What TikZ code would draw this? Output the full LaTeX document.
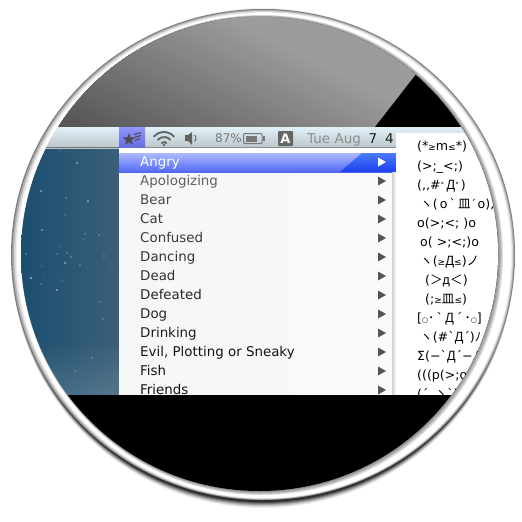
\documentclass[tikz,border=0pt]{standalone}
\usepackage{fontspec}
\setmainfont{DejaVu Sans}
\newfontfamily\plainf{DejaVu Sans}
\newfontfamily\cjk{Noto Sans CJK JP}
\newcommand{\cj}[1]{{\cjk #1}}
\usetikzlibrary{shapes.geometric,fadings}
\definecolor{menutext}{HTML}{2A2A2A}
\definecolor{bartext}{HTML}{777777}
\definecolor{arrowgrey}{HTML}{555555}
\definecolor{deskL}{HTML}{164A6E}
\definecolor{deskR}{HTML}{3A6078}
\definecolor{barT}{HTML}{E2F1F9}
\definecolor{barB}{HTML}{BAC6CA}
\definecolor{iconT}{HTML}{9296FF}
\definecolor{iconB}{HTML}{626ADC}
\definecolor{menuL}{HTML}{F5F6F8}
\definecolor{menuR}{HTML}{FAFAFA}
\definecolor{rowT}{HTML}{ACBAFF}
\definecolor{rowB}{HTML}{5268F6}
\definecolor{glareT}{HTML}{4C7CF8}
\definecolor{glareB}{HTML}{1C3EF0}
\tikzset{
  menuitem/.style={anchor=base west,inner sep=0pt,text=menutext,font=\fontsize{13.4}{15}\selectfont},
  subitem/.style={anchor=base west,inner sep=0pt,text=black,font=\plainf\fontsize{12.6}{14}\selectfont},
  bartxt/.style={anchor=base west,inner sep=0pt,text=bartext,font=\fontsize{12}{14}\selectfont},
  menuarrow/.style={fill=arrowgrey},
  wifi/.style={draw=#1,line width=1.9pt,line cap=butt},
}
\begin{document}
\begin{tikzpicture}[x=1pt,y=-1pt]
\useasboundingbox (0,0) rectangle (522,522);
% ring shadow
\foreach \i/\op in {0/0.06,1/0.09,2/0.13,3/0.18,4/0.25,5/0.35,6/0.4}{
  \fill[black,opacity=\op] (263,258) ellipse [x radius=251.5-.3*\i,y radius=250-\i];
}
% ring, dark rim fading to white
\fill[black!50] (263,254.5) ellipse [x radius=252,y radius=245.5];
\fill[black!32] (263.2,254.8) ellipse [x radius=250.8,y radius=244.8];
\fill[black!16] (263.5,255) ellipse [x radius=249.5,y radius=244];
\fill[black!6] (263.8,255.3) ellipse [x radius=248.2,y radius=243.2];
\fill[white] (264,255.5) ellipse [x radius=247,y radius=242.5];
% soft inner edge, seen on the right and below
\foreach \i in {0,1,2,3}{
  \fill[black,opacity=.13] ({262-.6*\i},{255-.25*\i}) ellipse [x radius=241-.6*\i,y radius=240-.75*\i];
}
\begin{scope}
\clip (259.5,254) ellipse [x radius=238.5,y radius=237];
% top grey
\fill[black!67] (0,0) rectangle (522,127);
\foreach \i in {0,...,39}{
  \pgfmathsetmacro{\t}{\i*4.41}
  \pgfmathsetmacro{\k}{67-28*\i/39}
  \pgfmathsetmacro{\px}{60+.45*\t}
  \pgfmathsetmacro{\py}{127-.89*\t}
  \fill[black!\k] ({\px-800*.89},{\py-800*.45}) -- ({\px+800*.89},{\py+800*.45}) -- ({\px+800*.89+800*.45},{\py+800*.45-800*.89}) -- ({\px-800*.89+800*.45},{\py-800*.45-800*.89}) -- cycle;
}
\fill[black] (417,73) -- (520,73) -- (520,127) -- (375,127) -- cycle;
% desktop
\shade[left color=deskL,right color=deskR] (0,148) rectangle (119,395);
\fill[white,opacity=0.14,path fading=north] (40,340) rectangle (119,395);
\foreach \x/\y/\r in {77/163/.9,41/191/.8,66/198/.6,88/201/.8,42/230/.8,65/263/.8,57/254/.7,67/253/.7,71/257/.7,80/265/.6,31/278/1,41/284/.7,57/290/.9,26/254/.6,104/256/.7,99/235/.6,85/234/.7,42/266/.5,43/273/.4,100/302/.6,103/319/.6,92/358/.7,75/371/.6,60/150/.5,65/215/.5,60/246/.5,62/280/.5,84/239/.5,112/270/.4}{
  \fill[white,opacity=.7] (\x,\y) circle (\r);
}
% menu bar
\shade[top color=barT,bottom color=barB] (0,127) rectangle (522,148);
\fill[black!55] (0,147.3) rectangle (119,148.3);
\fill[black!45] (145,147.3) rectangle (396,148.3);
\shade[top color=iconT,bottom color=iconB] (119,127) rectangle (145,148);
% status icons
\node[star,star points=5,star point ratio=2.4,fill=black!70,inner sep=0pt,minimum size=13pt] (staricon) at (129,139.5) {};
\draw[black!70,line width=1.1pt] (134,134.5) -- (141,132.5) (134.5,137.5) -- (141,135.5) (135,140.5) -- (140,138.5);
\foreach \r in {3.5,8.5,13.5}{
  \draw[wifi=black!60] ({164+\r*cos(-140)},{145.5+\r*sin(-140)}) arc [start angle=-140,end angle=-40,radius=\r];
}
\fill[black!60] (164,145) circle (1.4);
\fill[black!62] (185,135) -- (185,141) -- (188,141) -- (192,145) -- (192,132) -- (188,135) -- cycle;
\draw[black!62,line width=1pt] (194.5,135) arc [start angle=-50,end angle=50,radius=4.2];
\node[bartxt] (pct) at (215,142.5) {87\%};
\draw[bartext,line width=1pt,rounded corners=1pt] (243.5,133.5) rectangle (262,143.5);
\fill[bartext] (245.5,135.5) rectangle (257,141.5);
\fill[bartext] (263,136) rectangle (264.5,141);
\fill[black!60,rounded corners=1pt] (278,131) rectangle (293,146);
\node[inner sep=0pt,text=white,font=\fontsize{13}{13}\selectfont\bfseries] (keyA) at (285.5,138.5) {A};
\node[bartxt,text=black!45,font=\fontsize{13.5}{15}\selectfont] (tue) at (307,143) {Tue Aug};
\node[bartxt,text=black!88,font=\fontsize{13.5}{15}\selectfont] (date) at (368.5,143) {7};
\node[bartxt,text=black!88,font=\fontsize{13.5}{15}\selectfont] (hour) at (385,143) {4};
% menu
\shade[left color=menuL,right color=menuR] (119,148) rectangle (396,395);
\fill[white] (119,148.3) rectangle (396,153);
\shade[top color=rowT,bottom color=rowB] (119,153) rectangle (396,172);
\begin{scope}
\clip (362,153) -- (396,153) -- (396,172) -- (340,172) -- cycle;
\shade[top color=glareT,bottom color=glareB] (330,153) rectangle (396,172);
\end{scope}
\foreach \i/\t/\c in {0/Angry/white,1/Apologizing/black!62,2/Bear/black!72,3/Cat/black!78,4/Confused/black!78,5/Dancing/black!80,6/Dead/black!82,7/Defeated/black!85,8/Dog/black!85,9/Drinking/black!88,10/{Evil, Plotting or Sneaky}/black!92,11/Fish/black!92,12/Friends/black!92}{
  \node[menuitem,text=\c] (item\i) at (140,{166.5+19*\i}) {\t};
  \pgfmathsetmacro{\yy}{162+19*\i}
  \ifnum\i=0
    \fill[white] (378,\yy-4.5) -- (386,\yy) -- (378,\yy+4.5) -- cycle;
  \else
    \fill[menuarrow] (378,\yy-4.5) -- (386,\yy) -- (378,\yy+4.5) -- cycle;
  \fi
}
% submenu
\shade[left color=black!18,right color=black!2] (392,172) rectangle (396,395);
\fill[white] (396,133) rectangle (522,395);
\node[subitem] (s1) at (417,150.5) {(*{\small≥}m{\small≤}*)};
\node[subitem] (s2) at (417,170) {(>;\_<;)};
\node[subitem] (s3) at (417,189) {(,,\#\raisebox{2pt}{\scriptsize°}\,\cj{Д}\raisebox{2pt}{\scriptsize°}\,)};
\node[subitem] (s4) at (420,208) {\cj{ヽ}(\,o\,`\,\cj{皿}\,′\,o),};
\node[subitem] (s5) at (417,227) {o(>;<; )o};
\node[subitem] (s6) at (420,246) {o( >;<;)o};
\node[subitem] (s7) at (420,265) {\cj{ヽ}({\small≥}\cj{Д}{\small≤})\cj{ノ}};
\node[subitem] (s8) at (425,284) {(\cj{＞}\cj{д}\cj{＜})};
\node[subitem] (s9) at (425,303.5) {(;{\small≥}\cj{皿}{\small≤})};
\node[subitem] (s10) at (417,322.5) {[{\scriptsize○}\cj{･}\,`\,\cj{Д}\,´\,\cj{･}{\scriptsize○}]};
\node[subitem] (s11) at (420,341.5) {\cj{ヽ}(\#`\cj{Д}´)\cj{ﾉ}};
\node[subitem] (s12) at (417,360.5) {Σ(−`\cj{Д}´−\cj{ﾉ}};
\node[subitem] (s13) at (417,379.5) {(((p(>;o};
\node[subitem] (s14) at (417,398.5) {(´\_\cj{ゝ}`)};
% black lower part
\fill[black] (0,395) rectangle (522,522);
\end{scope}
\end{tikzpicture}
\end{document}
